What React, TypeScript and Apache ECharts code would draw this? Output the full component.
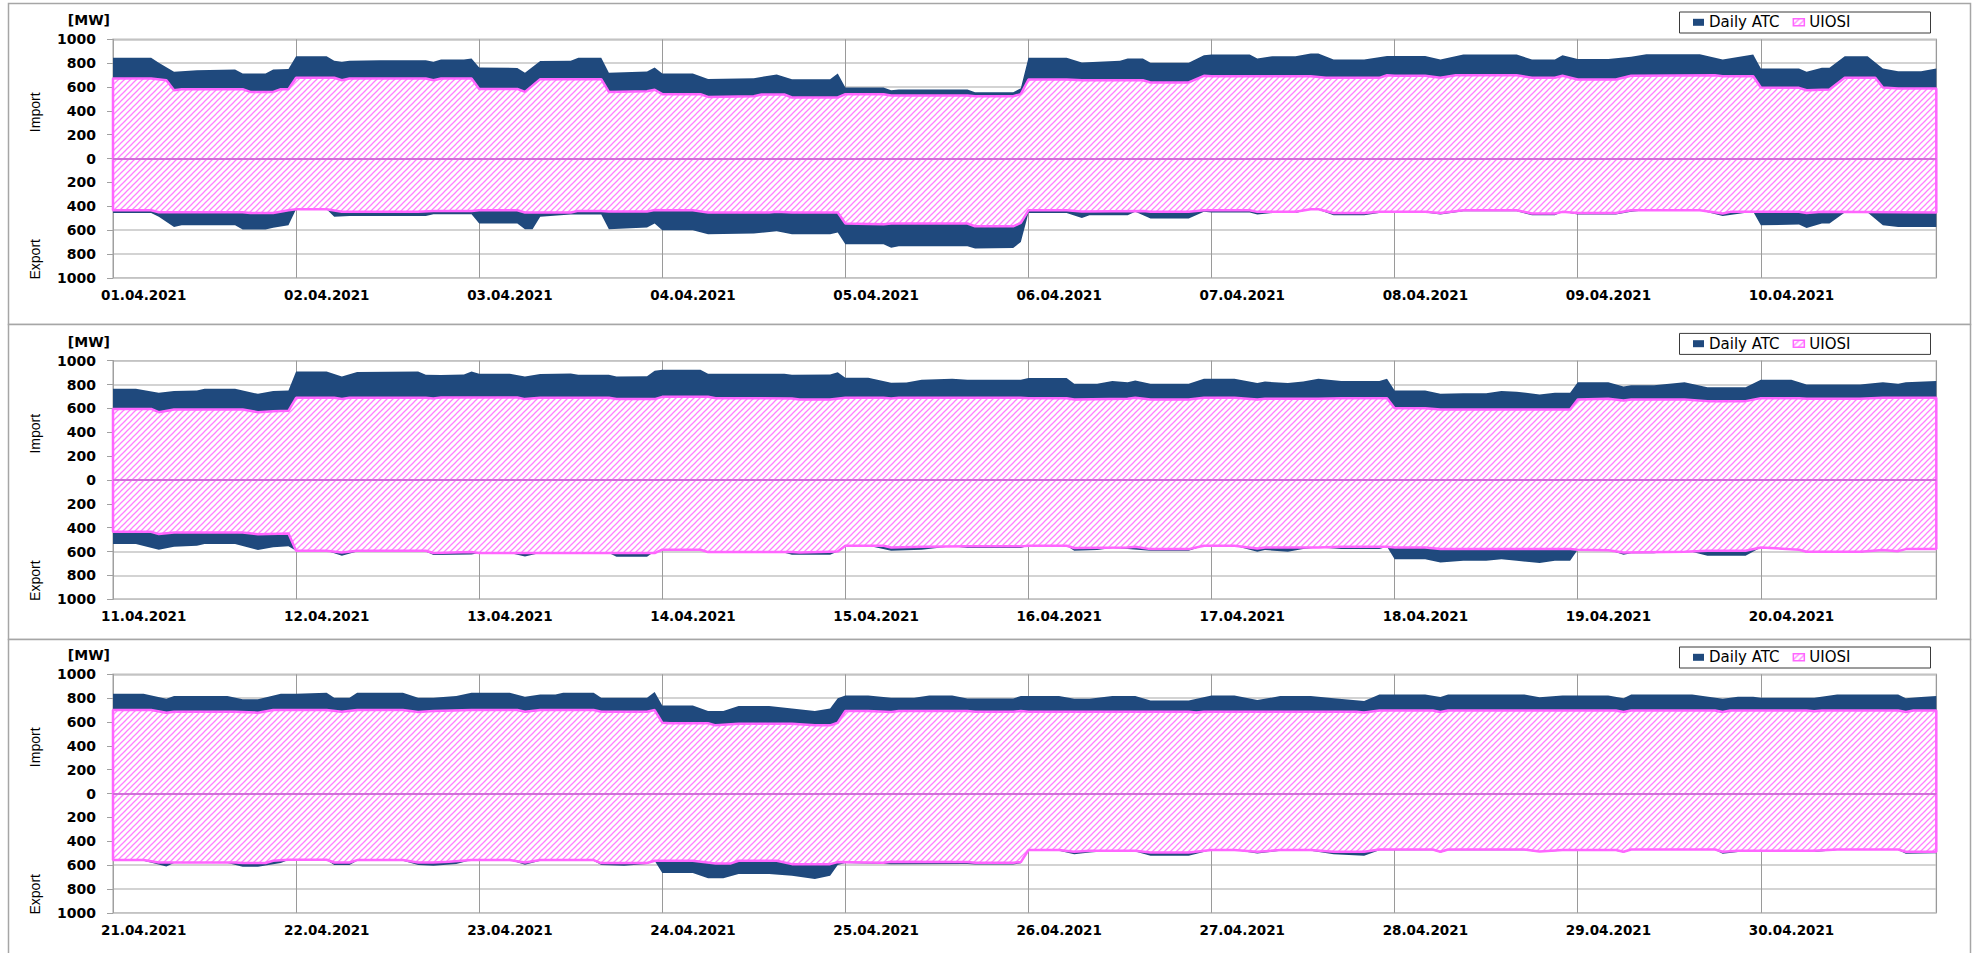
import React, { useEffect, useRef } from 'react';
import * as echarts from 'echarts';

// ---------- DATA (hour index 0..239 within each 10-day panel, MW; export negative) ----------
const dates1 = ['01.04.2021', '02.04.2021', '03.04.2021', '04.04.2021', '05.04.2021', '06.04.2021', '07.04.2021', '08.04.2021', '09.04.2021', '10.04.2021'];
const dates2 = ['11.04.2021', '12.04.2021', '13.04.2021', '14.04.2021', '15.04.2021', '16.04.2021', '17.04.2021', '18.04.2021', '19.04.2021', '20.04.2021'];
const dates3 = ['21.04.2021', '22.04.2021', '23.04.2021', '24.04.2021', '25.04.2021', '26.04.2021', '27.04.2021', '28.04.2021', '29.04.2021', '30.04.2021'];

const yTicks = [-1000, -800, -600, -400, -200, 0, 200, 400, 600, 800, 1000];

const atcImport1 = [
  [0, 845], [5, 845], [6, 803], [8, 727], [11, 740], [16, 747], [17, 713], [20, 713], [21, 747], [23, 750],
  [24, 858], [28, 858], [29, 820], [30, 811], [31, 820], [35, 825], [41, 825], [42, 811], [43, 830], [46, 830], [47, 839],
  [48, 763], [53, 760], [54, 719], [56, 817], [60, 820], [61, 845], [64, 845], [65, 719], [69, 727], [70, 730], [71, 763],
  [72, 713], [76, 713], [78, 668], [84, 674], [87, 705], [89, 666], [94, 666], [95, 713],
  [96, 596], [101, 596], [102, 573], [103, 579], [112, 579], [113, 557], [118, 557], [119, 590],
  [120, 845], [125, 845], [127, 805], [132, 820], [133, 839], [135, 839], [136, 803], [141, 803], [143, 867],
  [144, 873], [149, 873], [150, 839], [152, 858], [155, 858], [157, 881], [158, 881], [160, 830], [164, 830], [167, 861],
  [168, 861], [172, 861], [174, 830], [177, 873], [184, 873], [186, 830], [189, 830], [190, 867],
  [192, 834], [196, 834], [199, 853], [201, 875], [208, 875], [211, 830], [215, 873],
  [216, 755], [221, 755], [222, 727], [224, 761], [225, 761], [227, 858], [230, 858], [232, 755], [234, 733], [237, 733], [239, 755],
];
const uiosiImport1 = [
  [0, 671], [5, 671], [7, 657], [8, 573], [9, 582], [17, 582], [18, 559], [21, 559], [22, 582], [23, 582],
  [24, 677], [29, 677], [30, 657], [31, 671], [41, 671], [42, 657], [43, 671], [47, 671],
  [48, 584], [53, 584], [54, 559], [56, 666], [64, 666], [65, 559], [70, 565], [71, 577],
  [72, 540], [77, 540], [78, 517], [84, 523], [85, 537], [88, 537], [89, 512], [95, 512],
  [96, 540], [101, 540], [102, 529], [112, 529], [113, 523], [118, 523], [119, 540],
  [120, 663], [125, 663], [127, 657], [135, 657], [136, 638], [141, 638], [143, 694],
  [144, 690], [157, 690], [159, 677], [166, 677], [167, 699],
  [168, 694], [172, 694], [174, 677], [176, 699], [184, 699], [186, 677], [189, 677], [190, 694],
  [192, 663], [197, 663], [199, 694], [210, 699], [211, 690], [215, 690],
  [216, 596], [221, 593], [222, 573], [225, 579], [227, 677], [231, 677], [232, 596], [234, 587], [239, 587],
];
const atcExport1 = [
  [0, -456], [5, -456], [6, -489], [8, -573], [9, -559], [16, -559], [17, -596], [20, -596], [21, -580], [23, -559],
  [24, -425], [28, -425], [29, -489], [31, -481], [41, -481], [42, -467], [47, -467],
  [48, -545], [53, -545], [54, -593], [55, -593], [56, -489], [60, -470], [64, -470], [65, -593], [70, -579], [71, -545],
  [72, -601], [76, -601], [78, -635], [84, -629], [87, -610], [89, -635], [94, -635], [95, -620],
  [96, -719], [101, -719], [102, -747], [103, -735], [112, -735], [113, -755], [118, -750], [119, -700],
  [120, -456], [125, -456], [127, -498], [128, -475], [133, -475], [134, -447], [136, -503], [141, -503], [143, -447],
  [144, -453], [149, -453], [150, -470], [152, -456], [155, -456], [157, -425], [158, -430], [160, -475], [164, -475], [167, -447],
  [168, -453], [172, -453], [174, -470], [177, -442], [184, -442], [186, -475], [189, -475], [190, -447],
  [192, -470], [197, -470], [199, -447], [201, -434], [208, -434], [211, -481], [215, -447],
  [216, -559], [221, -554], [222, -582], [224, -545], [225, -545], [227, -453], [230, -453], [232, -559], [234, -573], [239, -573],
];
const uiosiExport1 = [
  [0, -434], [5, -434], [6, -450], [17, -450], [18, -456], [21, -456], [23, -434],
  [24, -425], [28, -425], [30, -447], [40, -447], [42, -439], [47, -439],
  [48, -434], [53, -434], [54, -453], [60, -453], [61, -439], [64, -439], [65, -445], [70, -445], [71, -432],
  [72, -434], [76, -434], [78, -453], [86, -453], [87, -447], [89, -453], [95, -453],
  [96, -545], [101, -551], [102, -545], [112, -545], [113, -568], [118, -568], [119, -540],
  [120, -434], [125, -434], [127, -445], [135, -439], [136, -447], [141, -447], [143, -434],
  [149, -434], [150, -447], [155, -447], [157, -425], [158, -425], [160, -456], [164, -456], [166, -447],
  [172, -447], [174, -456], [177, -434], [184, -434], [186, -461], [189, -461], [190, -447],
  [192, -456], [197, -456], [199, -434], [208, -434], [211, -461], [212, -447],
  [221, -447], [222, -456], [224, -447], [239, -453],
];

const atcImport2 = [
  [0, 764], [3, 764], [6, 731], [8, 745], [11, 750], [12, 764], [16, 764], [19, 722], [21, 745], [23, 750],
  [24, 910], [28, 910], [30, 868], [32, 905], [40, 910], [41, 882], [43, 880], [46, 885], [47, 910],
  [48, 890], [52, 890], [54, 868], [56, 888], [60, 892], [61, 882], [65, 882], [66, 868], [70, 870], [71, 915],
  [72, 924], [77, 924], [78, 890], [88, 890], [89, 882], [94, 885], [95, 904],
  [96, 857], [99, 857], [102, 815], [104, 818], [106, 840], [110, 848], [112, 840], [119, 840],
  [120, 854], [125, 854], [126, 806], [129, 806], [131, 829], [133, 820], [134, 834], [136, 806], [141, 806], [143, 848],
  [147, 848], [150, 812], [151, 825], [154, 812], [156, 825], [158, 848], [161, 829], [166, 829], [167, 848],
  [168, 750], [172, 750], [174, 722], [177, 728], [180, 728], [182, 745], [184, 740], [187, 717], [189, 731], [191, 731],
  [192, 820], [196, 820], [198, 784], [199, 795], [202, 795], [206, 820], [209, 778], [214, 778],
  [216, 840], [220, 840], [222, 801], [229, 801], [232, 820], [234, 806], [235, 820], [239, 830],
];
const uiosiImport2 = [
  [0, 596], [5, 596], [6, 568], [8, 591], [17, 591], [19, 568], [21, 577], [23, 580],
  [24, 689], [29, 689], [30, 678], [31, 689], [41, 689], [42, 684], [43, 692],
  [53, 692], [54, 678], [56, 689], [65, 689], [66, 678], [71, 678],
  [72, 697], [78, 697], [79, 686], [89, 683], [90, 675], [94, 675],
  [96, 689], [101, 689], [102, 683], [103, 689], [119, 689],
  [120, 686], [125, 686], [126, 675], [133, 680], [134, 689], [136, 675], [141, 675], [143, 689],
  [147, 689], [150, 675], [151, 680], [158, 680], [161, 686], [167, 686],
  [168, 602], [172, 602], [174, 591], [191, 591],
  [192, 675], [196, 680], [198, 666], [199, 675], [206, 675], [209, 661], [214, 661],
  [216, 686], [221, 686], [222, 680], [229, 680], [232, 689], [239, 689],
];
const atcExport2 = [
  [0, -538], [3, -538], [6, -585], [8, -560], [11, -552], [12, -538], [16, -538], [19, -588], [21, -565], [23, -555],
  [24, -594], [28, -594], [30, -636], [32, -600], [41, -600], [42, -630], [47, -625],
  [48, -613], [52, -613], [54, -641], [56, -613], [65, -613], [66, -644], [70, -644], [71, -600],
  [72, -588], [77, -588], [78, -610], [88, -610], [89, -627], [94, -627], [95, -600],
  [96, -552], [99, -552], [102, -594], [106, -585], [110, -555], [112, -571], [119, -571],
  [120, -552], [125, -552], [126, -594], [129, -588], [131, -571], [133, -580], [136, -594], [141, -594], [143, -552],
  [147, -552], [150, -602], [151, -588], [154, -602], [156, -580], [158, -566], [161, -580], [166, -580], [167, -560],
  [168, -664], [172, -664], [174, -692], [177, -678], [180, -678], [182, -664], [184, -678], [187, -697], [189, -678], [191, -678],
  [192, -585], [196, -585], [198, -627], [199, -614], [202, -614], [206, -588], [209, -636], [214, -636],
  [216, -566], [220, -570], [222, -608], [229, -608], [232, -588], [239, -580],
];
const uiosiExport2 = [
  [0, -434], [5, -434], [6, -454], [8, -440], [17, -440], [19, -456], [23, -450],
  [24, -594], [28, -594], [30, -608], [32, -594], [41, -594], [42, -613], [47, -605],
  [48, -613], [71, -613],
  [72, -585], [77, -585], [78, -605], [89, -605], [90, -608], [95, -600],
  [96, -552], [101, -552], [102, -566], [106, -560], [112, -557], [119, -557],
  [120, -552], [125, -552], [126, -571], [133, -566], [134, -560], [136, -580], [141, -580], [143, -552],
  [147, -552], [150, -575], [151, -566], [158, -566], [161, -560], [167, -560],
  [168, -566], [172, -566], [174, -580], [191, -580],
  [192, -585], [196, -590], [198, -608], [206, -602], [209, -594], [214, -594],
  [216, -566], [221, -585], [222, -602], [229, -602], [232, -588], [234, -597], [235, -580], [239, -580],
];

const atcImport3 = [
  [0, 837], [4, 837], [7, 795], [8, 817], [15, 817], [17, 790], [19, 790], [22, 837],
  [24, 837], [28, 845], [29, 804], [31, 804], [32, 845], [38, 845], [40, 804], [42, 804], [45, 817], [47, 845],
  [52, 845], [54, 812], [56, 831], [58, 831], [59, 845], [63, 845], [64, 804], [70, 804], [71, 851],
  [72, 739], [76, 739], [78, 692], [80, 692], [82, 734], [86, 734], [89, 714], [92, 692], [94, 714], [95, 800],
  [96, 823], [99, 823], [102, 804], [105, 804], [107, 823], [110, 823], [112, 798], [118, 798], [119, 817],
  [120, 817], [124, 817], [126, 795], [128, 795], [131, 817], [134, 817], [136, 781], [141, 781], [144, 823],
  [147, 823], [150, 784], [153, 817], [157, 817], [160, 800], [164, 776], [166, 831],
  [172, 831], [174, 810], [175, 831], [185, 831], [187, 808], [190, 823],
  [196, 823], [198, 800], [199, 831], [207, 831], [211, 795], [213, 812], [215, 812], [216, 804],
  [223, 804], [226, 831], [234, 831], [235, 800], [237, 810], [239, 817],
];
const uiosiImport3 = [
  [0, 700], [5, 700], [7, 678], [8, 686], [16, 686], [19, 678], [21, 700],
  [28, 700], [30, 686], [32, 700], [38, 700], [40, 684], [42, 692], [47, 700],
  [53, 700], [54, 686], [56, 700], [63, 700], [64, 686], [70, 686], [71, 700],
  [72, 594], [73, 589], [78, 589], [79, 572], [82, 586], [89, 586], [92, 572], [94, 572], [95, 594],
  [96, 692], [99, 692], [102, 684], [103, 692], [112, 692], [113, 686], [118, 686], [119, 692],
  [120, 686], [141, 686], [142, 680], [143, 686], [163, 686], [164, 680], [166, 697],
  [173, 697], [174, 684], [175, 697], [197, 697], [198, 684], [199, 697], [210, 697], [211, 684], [212, 697],
  [222, 697], [223, 690], [224, 697], [234, 697], [235, 684], [236, 697], [239, 697],
];
const atcExport3 = [
  [0, -564], [4, -564], [7, -611], [8, -583], [15, -583], [17, -614], [19, -614], [22, -583], [23, -558],
  [24, -558], [28, -558], [29, -600], [31, -600], [32, -564], [38, -564], [40, -600], [42, -605], [45, -590], [47, -558],
  [52, -558], [54, -597], [56, -564], [63, -564], [64, -600], [67, -605], [70, -590], [71, -564],
  [72, -667], [76, -667], [78, -711], [80, -711], [82, -675], [86, -675], [89, -689], [92, -717], [94, -689], [95, -600],
  [96, -583], [101, -590], [102, -592], [112, -590], [113, -595], [118, -595], [119, -585],
  [120, -474], [124, -480], [126, -508], [128, -495], [131, -480], [134, -485], [136, -522], [141, -522], [144, -474],
  [147, -474], [150, -502], [153, -480], [157, -480], [160, -510], [164, -522], [166, -475],
  [173, -475], [174, -495], [175, -475], [185, -475], [187, -490], [190, -480],
  [197, -480], [198, -495], [199, -474], [210, -474], [211, -505], [213, -490], [216, -485],
  [223, -490], [226, -474], [234, -474], [235, -505], [239, -500],
];
const uiosiExport3 = [
  [0, -558], [4, -558], [6, -578], [16, -578], [17, -583], [20, -583], [21, -564], [23, -555],
  [28, -555], [29, -578], [31, -578], [32, -558], [38, -558], [40, -578], [42, -578], [44, -572], [47, -558],
  [52, -558], [54, -578], [56, -558], [63, -558], [64, -583], [70, -583], [71, -564],
  [76, -564], [79, -586], [81, -586], [82, -564], [87, -564], [89, -592], [94, -592], [95, -575],
  [101, -580], [102, -572], [112, -575], [113, -580], [118, -580], [119, -575],
  [120, -474], [124, -474], [126, -488], [128, -480], [134, -480], [136, -494], [141, -494], [144, -474],
  [147, -474], [150, -488], [153, -474], [157, -474], [160, -488], [164, -488], [166, -469],
  [173, -469], [174, -488], [175, -469], [185, -469], [187, -485], [190, -474],
  [197, -474], [198, -488], [199, -469], [210, -469], [211, -488], [213, -480],
  [223, -480], [226, -469], [234, -469], [235, -488], [239, -488],
];

const panels = [
  { dates: dates1, atcImport: atcImport1, uiosiImport: uiosiImport1, atcExport: atcExport1, uiosiExport: uiosiExport1 },
  { dates: dates2, atcImport: atcImport2, uiosiImport: uiosiImport2, atcExport: atcExport2, uiosiExport: uiosiExport2 },
  { dates: dates3, atcImport: atcImport3, uiosiImport: uiosiImport3, atcExport: atcExport3, uiosiExport: uiosiExport3 },
];

// ---------- STYLE / LAYOUT ----------
const W = 1974;
const H = 953;
const ATC = '#1f497d';
const PINK = '#ff66ff';
const PLOT_LEFT = 113;
const PLOT_WIDTH = 1823.3;
const PLOT_TOPS = [39.3, 360.7, 674.3];
const PLOT_H = 238.5;
const BOXES = [
  [3, 321],
  [324, 315],
  [639, 330],
];
const BOLD = 'DejaVu Sans';

function makeHatch() {
  const s = 6;
  const c = document.createElement('canvas');
  c.width = s;
  c.height = s;
  const g = c.getContext('2d');
  if (g) {
    g.fillStyle = '#ffffff';
    g.fillRect(0, 0, s, s);
    g.strokeStyle = '#ff80ff';
    g.lineWidth = 1.25;
    for (const k of [0, s, 2 * s]) {
      g.beginPath();
      g.moveTo(-1, k + 1);
      g.lineTo(s + 1, k - s - 1);
      g.stroke();
    }
  }
  return { image: c, repeat: 'repeat' };
}

function closeToZero(pts: number[][]) {
  return [[pts[0][0], 0], ...pts, [pts[pts.length - 1][0], 0]];
}

export default function App() {
  const ref = useRef<HTMLDivElement>(null);

  useEffect(() => {
    if (!ref.current) return;
    const chart = echarts.init(ref.current, null, { renderer: 'svg' });
    const hatch = makeHatch();

    const grid: any[] = [];
    const xAxis: any[] = [];
    const yAxis: any[] = [];
    const series: any[] = [];
    const legend: any[] = [];
    const graphic: any[] = [];

    BOXES.forEach(([y, h]) => {
      graphic.push({
        type: 'rect',
        z: -10,
        silent: true,
        shape: { x: 8.5, y: y + 0.5, width: 1962, height: h },
        style: { fill: '#ffffff', stroke: '#a6a6a6', lineWidth: 1.5 },
      });
    });

    panels.forEach((p, i) => {
      const top = PLOT_TOPS[i];
      grid.push({
        left: PLOT_LEFT,
        top,
        width: PLOT_WIDTH,
        height: PLOT_H,
        show: true,
        backgroundColor: '#ffffff',
        borderColor: '#c0c0c0',
        borderWidth: 1.5,
      });
      xAxis.push({
        type: 'value',
        gridIndex: i,
        min: 0,
        max: 239,
        interval: 24,
        axisLine: { show: true, lineStyle: { color: '#a0a0a0', width: 1 } },
        axisTick: { show: false },
        splitLine: { show: true, lineStyle: { color: '#9a9a9a', width: 1 } },
        axisLabel: {
          formatter: (v: number) => (v % 24 === 0 && p.dates[v / 24] ? p.dates[v / 24] : ''),
          align: 'left',
          padding: [0, 0, 0, -12],
          margin: 10,
          fontFamily: BOLD,
          fontWeight: 'bold',
          fontSize: 13.5,
          color: '#000000',
        },
      });
      yAxis.push({
        type: 'value',
        gridIndex: i,
        min: yTicks[0],
        max: yTicks[yTicks.length - 1],
        interval: 200,
        name: '[MW]',
        nameLocation: 'end',
        nameGap: 19,
        nameTextStyle: {
          fontFamily: BOLD,
          fontWeight: 'bold',
          fontSize: 14,
          color: '#000000',
          align: 'right',
          verticalAlign: 'middle',
          padding: [0, 3, 0, 0],
        },
        axisLine: { show: true, lineStyle: { color: '#a0a0a0', width: 1 } },
        axisTick: { show: true, length: 6, lineStyle: { color: '#a0a0a0' } },
        splitLine: { show: true, lineStyle: { color: '#c4c4c4', width: 1.5 } },
        axisLabel: {
          formatter: (v: number) => String(Math.abs(v)),
          margin: 17,
          fontFamily: BOLD,
          fontWeight: 'bold',
          fontSize: 14,
          color: '#000000',
        },
      });

      const common = {
        type: 'line',
        xAxisIndex: i,
        yAxisIndex: i,
        symbol: 'none',
        showSymbol: false,
        silent: true,
        smooth: false,
      };
      series.push({
        ...common,
        name: 'Daily ATC',
        data: p.atcImport,
        itemStyle: { color: ATC },
        lineStyle: { width: 0, color: ATC },
        areaStyle: { color: ATC, opacity: 1 },
      });
      series.push({
        ...common,
        name: 'Daily ATC',
        data: p.atcExport,
        itemStyle: { color: ATC },
        lineStyle: { width: 0, color: ATC },
        areaStyle: { color: ATC, opacity: 1 },
      });
      series.push({
        ...common,
        name: 'UIOSI',
        data: closeToZero(p.uiosiImport),
        itemStyle: { color: PINK },
        lineStyle: { width: 2.5, color: PINK },
        areaStyle: { color: hatch, opacity: 1 },
      });
      series.push({
        ...common,
        name: 'UIOSI',
        data: closeToZero(p.uiosiExport),
        itemStyle: { color: PINK },
        lineStyle: { width: 2.5, color: PINK },
        areaStyle: { color: hatch, opacity: 1 },
        markLine: {
          silent: true,
          symbol: 'none',
          label: { show: false },
          lineStyle: { color: '#d070d8', width: 2, type: 'solid' },
          data: [{ yAxis: 0 }],
        },
      });

      legend.push({
        left: 1693,
        top: top - 24.5,
        padding: 0,
        itemWidth: 11,
        itemHeight: 7,
        itemGap: 13,
        selectedMode: false,
        textStyle: { fontFamily: 'DejaVu Sans', fontSize: 15, color: '#000000' },
        data: [
          { name: 'Daily ATC', icon: 'rect', itemStyle: { color: ATC, borderWidth: 0 } },
          { name: 'UIOSI', icon: 'rect', itemStyle: { color: hatch, borderColor: PINK, borderWidth: 1.5 } },
        ],
      });

      graphic.push({
        type: 'rect',
        z: 1,
        silent: true,
        shape: { x: 1679.5, y: top - 27.3, width: 251, height: 21 },
        style: { fill: '#ffffff', stroke: '#3a3a3a', lineWidth: 1 },
      });
      graphic.push({
        type: 'text',
        x: 35,
        y: top + 73,
        rotation: Math.PI / 2,
        silent: true,
        style: { text: 'Import', fill: '#000000', font: '14px "Liberation Sans"', align: 'center', verticalAlign: 'middle' },
      });
      graphic.push({
        type: 'text',
        x: 35,
        y: top + 220,
        rotation: Math.PI / 2,
        silent: true,
        style: { text: 'Export', fill: '#000000', font: '14px "Liberation Sans"', align: 'center', verticalAlign: 'middle' },
      });
    });

    chart.setOption({
      animation: false,
      backgroundColor: '#ffffff',
      grid,
      xAxis,
      yAxis,
      series,
      legend,
      graphic,
    });

    return () => {
      chart.dispose();
    };
  }, []);

  return (
    <div
      ref={ref}
      style={{ position: 'absolute', left: 0, top: 0, width: W, height: H, overflow: 'hidden' }}
    />
  );
}
